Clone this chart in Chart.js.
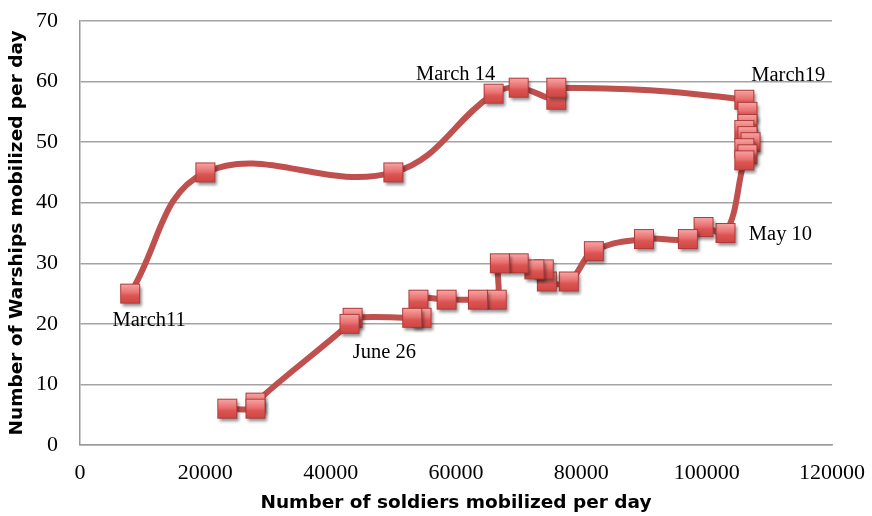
<!DOCTYPE html>
<html>
<head>
<meta charset="utf-8">
<script src="https://cdn.jsdelivr.net/npm/chart.js@4/dist/chart.umd.min.js"></script>
<style>
  html, body { margin: 0; padding: 0; background: #fff; }
  #wrap { width: 872px; height: 516px; }
</style>
</head>
<body>
<div id="wrap"><canvas id="mobChart" width="872" height="516"></canvas></div>
<script>
// soldiers / warships mobilized per day, in date order
const soldiers = [8000, 20000, 50000, 66000, 70000, 76000, 76000, 106000, 106500, 106500, 106000, 106500, 107000, 106000, 106500, 106000,
  103000, 99500, 97000, 90000, 82000, 78000, 74500, 74000, 72500, 70000, 67000, 66500, 63500, 58500, 54000, 54500, 53000, 43500, 43000,
  28000, 28000, 23500];
const warships = [25, 45, 45, 58, 59, 57, 59, 57, 55, 53, 52, 51, 50, 49, 48, 47,
  35, 36, 34, 34, 32, 27, 27, 29, 29, 30, 30, 24, 24, 24, 24, 21, 21, 21, 20,
  7, 6, 6];

// date notes and the point each one belongs to
const noteTexts = ['March11', 'March 14', 'March19', 'May 10', 'June 26'];
const noteIndex = [0, 3, 7, 16, 34];
const noteShift = [[19, 27], [-38, -19], [44, -24], [55, 2], [35, 29]];

const xTicksMax = 120000, xStep = 20000;
const yTicksMax = 70, yStep = 10;

// square marker with gradient + soft shadow
function makeMarker() {
  const c = document.createElement('canvas');
  c.width = 30; c.height = 30;
  const g = c.getContext('2d');
  const s = 20, x0 = (30 - s) / 2, y0 = (30 - s) / 2;
  g.save();
  g.shadowColor = 'rgba(0,0,0,0.45)';
  g.shadowBlur = 3;
  g.shadowOffsetX = 1.5;
  g.shadowOffsetY = 2.5;
  g.fillStyle = '#c94442';
  g.fillRect(x0, y0, s, s);
  g.restore();
  const grad = g.createLinearGradient(0, y0, 0, y0 + s);
  grad.addColorStop(0, '#f8a9a8');
  grad.addColorStop(0.45, '#e87170');
  grad.addColorStop(0.6, '#dc5553');
  grad.addColorStop(1, '#cd4644');
  g.fillStyle = grad;
  g.fillRect(x0, y0, s, s);
  g.strokeStyle = '#ad3b3a';
  g.lineWidth = 1;
  g.strokeRect(x0 + 0.5, y0 + 0.5, s - 1, s - 1);
  return c;
}

const notesPlugin = {
  id: 'notes',
  afterDatasetsDraw(chart) {
    const pts = chart.getDatasetMeta(0).data;
    const ctx = chart.ctx;
    ctx.save();
    ctx.font = '20.5px "Liberation Serif", "Times New Roman", serif';
    ctx.fillStyle = '#000';
    ctx.textAlign = 'center';
    ctx.textBaseline = 'middle';
    noteTexts.forEach((t, i) => {
      const p = pts[noteIndex[i]];
      ctx.fillText(t, p.x + noteShift[i][0], p.y + noteShift[i][1]);
    });
    ctx.restore();
  }
};

const tickFont = { family: '"Liberation Serif", "Times New Roman", serif', size: 22 };
const titleFont = { family: '"DejaVu Sans", Arial, sans-serif', size: 18.5, weight: 'bold' };

new Chart(document.getElementById('mobChart').getContext('2d'), {
  type: 'line',
  data: {
    datasets: [{
      data: soldiers.map((s, i) => ({ x: s, y: warships[i] })),
      borderColor: '#c0504d',
      borderWidth: 6,
      tension: 0.4,
      pointStyle: makeMarker(),
      fill: false
    }]
  },
  options: {
    responsive: false,
    animation: false,
    layout: { padding: { top: 21, right: 32, left: 0, bottom: 0 } },
    plugins: { legend: { display: false }, tooltip: { enabled: false } },
    scales: {
      x: {
        type: 'linear', min: 0, max: xTicksMax,
        ticks: { stepSize: xStep, color: '#000', font: tickFont, padding: 7, maxRotation: 0, callback: v => String(v) },
        grid: { display: false },
        border: { display: true, color: '#9a9a9a', width: 1.5 },
        title: { display: true, text: 'Number of soldiers mobilized per day', color: '#000', font: titleFont, padding: { top: 0, bottom: 2 } },
        afterFit: sc => { sc.height = 71; }
      },
      y: {
        min: 0, max: yTicksMax,
        ticks: { stepSize: yStep, color: '#000', font: tickFont, padding: 0 },
        grid: { color: '#a3a3a3', lineWidth: 1.5, drawTicks: true, tickLength: 22, tickColor: 'rgba(0,0,0,0)' },
        border: { display: true, color: '#9a9a9a', width: 1.5 },
        title: { display: true, text: 'Number of Warships mobilized per day', color: '#000', font: titleFont, padding: { top: 6, bottom: 0 } },
        afterFit: sc => { sc.width = 80; }
      }
    }
  },
  plugins: [notesPlugin]
});
</script>
</body>
</html>
